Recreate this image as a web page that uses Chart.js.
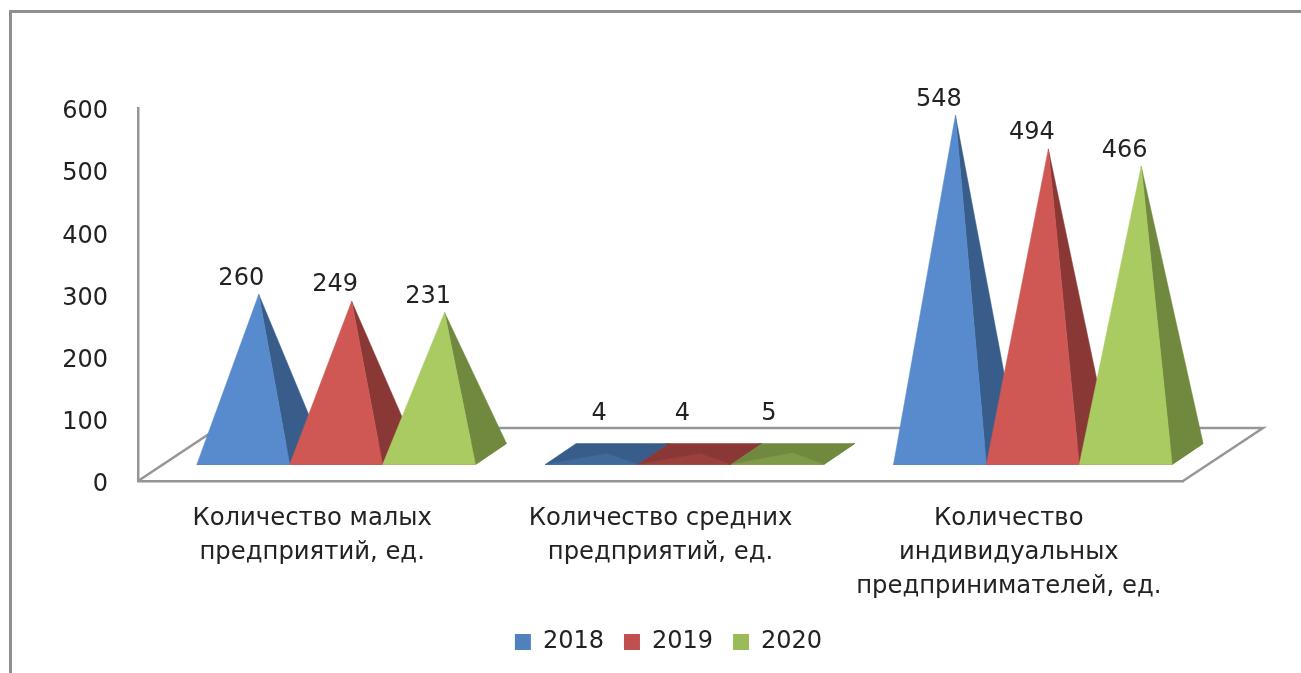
<!DOCTYPE html>
<html lang="ru">
<head>
<meta charset="utf-8">
<title>Количество предприятий</title>
<script src="https://cdn.jsdelivr.net/npm/chart.js@4/dist/chart.umd.min.js"></script>
<style>
  html, body { margin: 0; padding: 0; background: #fff; overflow: hidden; }
  .frame {
    position: absolute; left: 9px; top: 10px; right: 0; bottom: 0;
    border-top: 3px solid #8f8f8f; border-left: 3px solid #8f8f8f;
  }
  /* the source picture is a soft, upscaled screenshot */
  canvas { position: absolute; left: 0; top: 0; filter: blur(0.45px); }
</style>
</head>
<body>
<div class="frame"></div>
<canvas id="chart" width="1301" height="673"></canvas>
<script>
const categories = [
  ["Количество малых", "предприятий, ед."],
  ["Количество средних", "предприятий, ед."],
  ["Количество", "индивидуальных", "предпринимателей, ед."],
];
const years = ["2018", "2019", "2020"];
const values2018 = [260, 4, 548];
const values2019 = [249, 4, 494];
const values2020 = [231, 5, 466];

const legendColors = ["#4f81bd", "#c0504d", "#9bbb59"];
const frontColors = ["#578bcd", "#cf5855", "#a9cb61"];
const sideColors = ["#385d8a", "#8a3836", "#71893f"];

const FONT = '"DejaVu Sans", sans-serif';
const TEXT_COLOR = "#222";
const LINE_COLOR = "#969696";

// fake 3d: pixels the bars are pushed to the right/up from the axis line
const bar3d = { shiftX: 24, frontRise: 16.5, depthX: 31, depthY: 21, apexRise: 25 };
const floor3d = { depthX: 80, depthY: 53 };
const labelShift = [[-2, -1, -1], [7.5, -2, -8.5], [-1, -1, -1]];

function mix(a, b, t) {
  const ca = parseInt(a.slice(1), 16);
  const cb = parseInt(b.slice(1), 16);
  const part = (s) => Math.round(((ca >> s) & 255) * (1 - t) + ((cb >> s) & 255) * t);
  return `rgb(${part(16)}, ${part(8)}, ${part(0)})`;
}

function fillPoly(ctx, color, pts) {
  ctx.fillStyle = color;
  ctx.strokeStyle = color;
  ctx.lineWidth = 0.5;
  ctx.lineJoin = "round"; // a miter would stick out above the sharp tips
  ctx.beginPath();
  pts.forEach((p, i) => (i ? ctx.lineTo(p[0], p[1]) : ctx.moveTo(p[0], p[1])));
  ctx.closePath();
  ctx.fill();
  ctx.stroke();
}

function drawPyramid(ctx, el, i) {
  const left = el.x - el.width / 2 + bar3d.shiftX;
  const right = el.x + el.width / 2 + bar3d.shiftX;
  const front = el.base - bar3d.frontRise;
  const back = front - bar3d.depthY;
  const apexX = el.x + bar3d.shiftX + bar3d.depthX / 2;
  const apexY = el.y - bar3d.apexRise;
  const side = sideColors[i];

  // low pyramids look dark from above, tall ones get the full front colour
  const t = Math.min(1, (front - apexY) / 60);
  fillPoly(ctx, side, [[left, front], [right, front], [right + bar3d.depthX, back], [left + bar3d.depthX, back]]);
  fillPoly(ctx, side, [[right, front], [right + bar3d.depthX, back], [apexX, apexY]]);
  fillPoly(ctx, mix(side, frontColors[i], 0.1 + 0.9 * t), [[left, front], [right, front], [apexX, apexY]]);
  return apexY;
}

const pyramidsPlugin = {
  id: "pyramids",
  afterLayout(chart) {
    // legend is centred on the page area, not on the plot
    chart.legend.left += 72;
    chart.legend.right += 72;
    chart.legend.top -= 9;
    chart.legend.bottom -= 9;
  },
  beforeDatasetsDraw(chart) {
    const { ctx, chartArea: area } = chart;
    ctx.save();
    ctx.strokeStyle = LINE_COLOR;
    ctx.lineWidth = 2.5;
    ctx.beginPath();
    ctx.moveTo(area.left, area.bottom);
    ctx.lineTo(area.left + floor3d.depthX, area.bottom - floor3d.depthY);
    ctx.lineTo(area.right + floor3d.depthX, area.bottom - floor3d.depthY);
    ctx.lineTo(area.right, area.bottom);
    ctx.stroke();
    ctx.restore();
  },
  beforeDatasetDraw() {
    return false; // bars are replaced, see afterDatasetsDraw
  },
  afterDatasetsDraw(chart) {
    const { ctx, chartArea: area } = chart;
    const labels = [];
    ctx.save();
    // left to right so that the next pyramid covers the side of the previous one
    chart.data.datasets.forEach((ds, i) => {
      chart.getDatasetMeta(i).data.forEach((el, j) => {
        const apexY = drawPyramid(ctx, el, i);
        labels.push({
          text: String(ds.data[j]),
          x: el.x + bar3d.shiftX + labelShift[j][i],
          y: Math.min(apexY - 16, area.bottom - floor3d.depthY - 14),
        });
      });
    });
    ctx.fillStyle = TEXT_COLOR;
    ctx.font = `24px ${FONT}`;
    ctx.textAlign = "center";
    ctx.textBaseline = "middle";
    labels.forEach((l) => ctx.fillText(l.text, l.x, l.y));
    ctx.restore();
  },
};

new Chart(document.getElementById("chart"), {
  type: "bar",
  data: {
    labels: categories,
    datasets: [values2018, values2019, values2020].map((data, i) => ({
      label: years[i],
      data,
      backgroundColor: legendColors[i],
      categoryPercentage: 0.8,
      barPercentage: 1,
    })),
  },
  plugins: [pyramidsPlugin],
  options: {
    responsive: false,
    animation: false,
    layout: { padding: { top: 108, right: 118, bottom: 0, left: 10 } },
    plugins: {
      tooltip: { enabled: false },
      legend: {
        position: "bottom",
        labels: {
          boxWidth: 16,
          boxHeight: 16,
          padding: 20,
          color: TEXT_COLOR,
          font: { family: FONT, size: 24 },
        },
      },
    },
    scales: {
      x: {
        grid: { display: false, drawTicks: false },
        border: { color: LINE_COLOR, width: 2.5 },
        afterFit(scale) {
          scale.height = 138;
        },
        ticks: {
          color: TEXT_COLOR,
          padding: 21,
          maxRotation: 0,
          autoSkip: false,
          font: { family: FONT, size: 24.3, lineHeight: 1.4 },
        },
      },
      y: {
        min: 0,
        max: 600,
        grid: { display: false, drawTicks: false },
        border: { color: LINE_COLOR, width: 2.5 },
        afterFit(scale) {
          scale.width = 128;
        },
        ticks: {
          stepSize: 100,
          color: TEXT_COLOR,
          padding: 30,
          labelOffset: 4,
          font: { family: FONT, size: 24 },
        },
      },
    },
  },
});
</script>
</body>
</html>
